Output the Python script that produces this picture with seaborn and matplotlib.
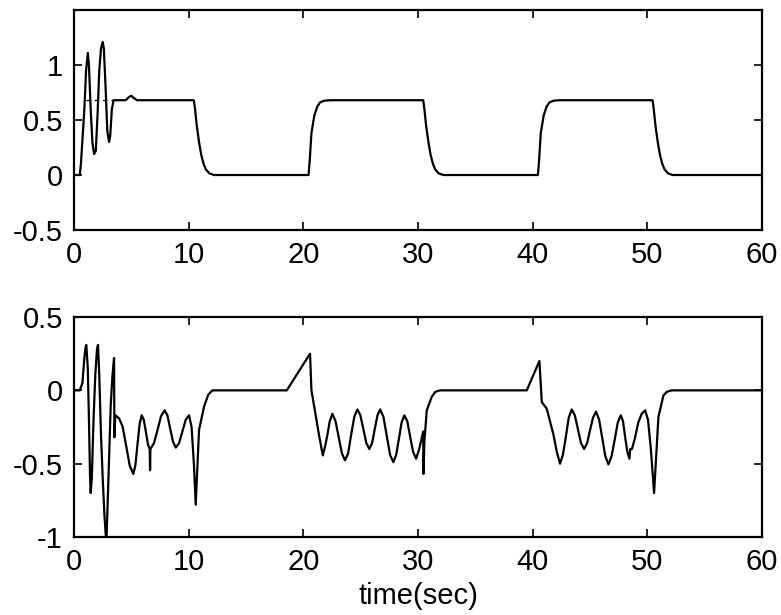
import matplotlib
matplotlib.use("Agg")
import matplotlib.pyplot as plt
import seaborn as sns
import pandas as pd

# Upper trace: output response to a square-wave command
t_out = [0, 0.5, 0.6, 0.75, 0.9, 1.05, 1.2, 1.3, 1.45, 1.6, 1.75, 1.9, 2.05, 2.2,
         2.35, 2.5, 2.6, 2.75, 2.9, 3.05, 3.15, 3.3, 3.45, 3.6, 4.5, 4.8, 5.0, 5.2,
         5.5, 7.0, 9.0, 10.45,
         10.55, 10.7, 10.9, 11.1, 11.3, 11.5, 11.8, 12.2, 20.45,
         20.55, 20.7, 20.95, 21.2, 21.45, 21.8, 22.3, 30.45,
         30.55, 30.7, 30.9, 31.1, 31.3, 31.5, 31.8, 32.2, 40.45,
         40.55, 40.7, 40.95, 41.2, 41.45, 41.8, 42.3, 50.45,
         50.55, 50.7, 50.9, 51.1, 51.3, 51.5, 51.8, 52.2, 60]
y_out = [0, 0, 0.1, 0.35, 0.6, 0.95, 1.11, 1.0, 0.6, 0.3, 0.19, 0.22, 0.55, 0.95,
         1.15, 1.21, 1.15, 0.8, 0.4, 0.3, 0.35, 0.6, 0.68, 0.68, 0.68, 0.71, 0.72, 0.7,
         0.68, 0.68, 0.68, 0.68,
         0.6, 0.45, 0.3, 0.18, 0.1, 0.05, 0.015, 0.0, 0.0,
         0.13, 0.38, 0.54, 0.62, 0.66, 0.675, 0.68, 0.68,
         0.6, 0.45, 0.3, 0.18, 0.1, 0.05, 0.015, 0.0, 0.0,
         0.13, 0.38, 0.54, 0.62, 0.66, 0.675, 0.68, 0.68,
         0.6, 0.45, 0.3, 0.18, 0.1, 0.05, 0.015, 0.0, 0.0]

# Short dashed set-point segment visible during the start-up transient
t_ref = [1.0, 3.4]
y_ref = [0.68, 0.68]

# Lower trace: control signal
t_ctl = [0, 0.5, 0.73, 0.9, 1.0, 1.07, 1.2, 1.3, 1.4, 1.45, 1.55, 1.7, 1.85, 2.0,
         2.09, 2.2, 2.35, 2.5, 2.65, 2.82, 3.0, 3.2, 3.35, 3.49, 3.52, 3.6, 3.92,
         4.23, 4.55, 4.86, 5.17, 5.35, 5.53, 5.72, 5.9, 6.08, 6.27, 6.45, 6.6, 6.63,
         6.66, 6.97, 7.28, 7.59, 7.9, 8.14, 8.38, 8.63, 8.87, 9.16, 9.45, 9.74, 10.03,
         10.25, 10.45, 10.61, 10.9, 11.34, 11.7, 12.06,
         18.55, 20.58, 20.7, 21.0, 21.35, 21.69, 21.9, 22.1, 22.3, 22.53, 22.8, 23.08,
         23.36, 23.63, 23.9, 24.17, 24.44, 24.71, 24.97, 25.23, 25.49, 25.75, 25.99,
         26.22, 26.46, 26.69, 26.98, 27.27, 27.56, 27.85, 28.09, 28.33, 28.56, 28.8,
         29.06, 29.32, 29.57, 29.83, 30.1, 30.3, 30.45, 30.47, 30.55, 30.76, 31.19,
         31.5, 31.92,
         39.48, 40.58, 40.79, 41.22, 41.8, 42.1, 42.38, 42.63, 42.89, 43.14, 43.4,
         43.67, 43.94, 44.21, 44.48, 44.74, 45.0, 45.26, 45.52, 45.79, 46.06, 46.33,
         46.6, 46.87, 47.14, 47.41, 47.68, 47.87, 48.06, 48.25, 48.43, 48.5, 48.65,
         48.9, 49.2, 49.5, 49.8, 50.05, 50.3, 50.58, 50.96, 51.4, 51.7, 52.1, 60]
u_ctl = [0, 0, 0.05, 0.22, 0.29, 0.31, 0.15, -0.2, -0.6, -0.7, -0.6, -0.2, 0.1, 0.28,
         0.31, 0.1, -0.3, -0.6, -0.85, -1.05, -0.6, -0.1, 0.1, 0.22, -0.32, -0.17, -0.19,
         -0.245, -0.38, -0.515, -0.57, -0.51, -0.37, -0.23, -0.17, -0.2, -0.285, -0.37, -0.4, -0.545,
         -0.4, -0.36, -0.27, -0.175, -0.136, -0.17, -0.26, -0.35, -0.39, -0.36, -0.28, -0.2, -0.17,
         -0.25, -0.5, -0.78, -0.27, -0.11, -0.03, 0.0,
         0.0, 0.25, 0.0, -0.136, -0.3, -0.443, -0.38, -0.3, -0.21, -0.16, -0.21, -0.32,
         -0.43, -0.477, -0.43, -0.3, -0.18, -0.13, -0.17, -0.265, -0.36, -0.4, -0.36,
         -0.265, -0.17, -0.13, -0.18, -0.31, -0.44, -0.49, -0.44, -0.33, -0.22, -0.17,
         -0.21, -0.32, -0.42, -0.466, -0.4, -0.33, -0.28, -0.57, -0.35, -0.136, -0.045,
         -0.01, 0.0,
         0.0, 0.2, -0.08, -0.125, -0.3, -0.42, -0.5, -0.44, -0.315, -0.185, -0.13,
         -0.17, -0.265, -0.36, -0.4, -0.36, -0.27, -0.185, -0.145, -0.2, -0.325, -0.45,
         -0.505, -0.45, -0.34, -0.22, -0.17, -0.21, -0.32, -0.42, -0.466, -0.4, -0.4,
         -0.33, -0.22, -0.16, -0.136, -0.2, -0.4, -0.7, -0.18, -0.034, -0.01, 0.0, 0.0]

x_ticks = [0, 10, 20, 30, 40, 50, 60]
y_ticks_top = [-0.5, 0, 0.5, 1]
y_ticks_bot = [-1, -0.5, 0, 0.5]
x_label = "time(sec)"

sns.set_style("ticks")
plt.rcParams["font.family"] = ["Liberation Sans", "DejaVu Sans"]
plt.rcParams.update({
    "xtick.direction": "in", "ytick.direction": "in",
    "xtick.top": True, "ytick.right": True,
    "xtick.major.size": 6, "ytick.major.size": 6,
    "xtick.major.width": 1.2, "ytick.major.width": 1.2,
    "xtick.major.pad": 8, "ytick.major.pad": 8,
    "axes.linewidth": 1.6, "axes.edgecolor": "black",
    "axes.labelcolor": "black", "text.color": "black",
    "xtick.color": "black", "ytick.color": "black",
    "xtick.labelsize": 21, "ytick.labelsize": 21,
})

fig = plt.figure(figsize=(7.81, 6.15), dpi=100)
ax1 = fig.add_axes([0.0948, 0.626, 0.881, 0.3577])
ax2 = fig.add_axes([0.0948, 0.1268, 0.881, 0.3577])

df_out = pd.DataFrame({"t": t_out, "y": y_out})
df_ref = pd.DataFrame({"t": t_ref, "y": y_ref})
df_ctl = pd.DataFrame({"t": t_ctl, "u": u_ctl})

sns.lineplot(data=df_out, x="t", y="y", ax=ax1, color="black", linewidth=1.6,
             estimator=None, sort=False)
sns.lineplot(data=df_ref, x="t", y="y", ax=ax1, color="black", linewidth=1.0,
             linestyle=(0, (3, 3)), estimator=None, sort=False)
sns.lineplot(data=df_ctl, x="t", y="u", ax=ax2, color="black", linewidth=1.6,
             estimator=None, sort=False)

ax1.set_xlim(0, 60)
ax1.set_ylim(-0.5, 1.5)
ax1.set_xticks(x_ticks)
ax1.set_yticks(y_ticks_top)
ax1.set_yticklabels(["-0.5", "0", "0.5", "1"])

ax2.set_xlim(0, 60)
ax2.set_ylim(-1, 0.5)
ax2.set_xticks(x_ticks)
ax2.set_yticks(y_ticks_bot)
ax2.set_yticklabels(["-1", "-0.5", "0", "0.5"])

for ax in (ax1, ax2):
    ax.set_xlabel("")
    ax.set_ylabel("")
    ax.set_xticklabels([str(v) for v in x_ticks])

ax2.set_xlabel(x_label, fontsize=21, labelpad=4, color="black")

fig.savefig("out.png", dpi=100, facecolor="white")
